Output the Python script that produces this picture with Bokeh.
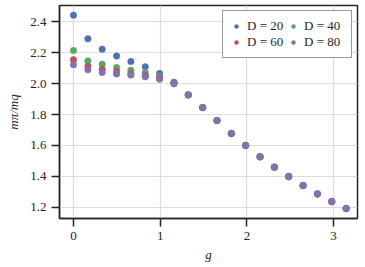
from bokeh.plotting import figure
from bokeh.models import Range1d, Legend, LegendItem, NumeralTickFormatter
from bokeh.embed import file_html
from bokeh.resources import INLINE

g = [0.0, 0.166, 0.331, 0.497, 0.662, 0.828, 0.993, 1.159, 1.324, 1.490,
     1.655, 1.821, 1.986, 2.152, 2.317, 2.483, 2.648, 2.814, 2.979, 3.145]
tail = [1.927, 1.845, 1.761, 1.677, 1.599, 1.526, 1.459, 1.398, 1.340, 1.286, 1.236, 1.191]
d20 = [2.443, 2.290, 2.223, 2.178, 2.143, 2.109, 2.065, 2.009] + tail
d40 = [2.214, 2.147, 2.126, 2.104, 2.087, 2.070, 2.046, 2.006] + tail
d60 = [2.154, 2.111, 2.091, 2.078, 2.063, 2.052, 2.035, 2.002] + tail
d80 = [2.122, 2.089, 2.072, 2.063, 2.055, 2.044, 2.029, 1.999] + tail

series = [("D = 20", d20, "#4C72B0"), ("D = 40", d40, "#55A868"),
          ("D = 60", d60, "#C44E52"), ("D = 80", d80, "#8172B2")]
x_ticks = [0, 1, 2, 3]
y_ticks = [1.2, 1.4, 1.6, 1.8, 2.0, 2.2, 2.4]

FONT = "Liberation Serif"
DARK = "#262626"

p = figure(width=365, height=267, output_backend="svg", toolbar_location=None,
           x_range=Range1d(-0.1615, 3.276), y_range=Range1d(1.1266, 2.5058),
           min_border_left=59, min_border_right=8, min_border_top=5, min_border_bottom=49)

renderers = {}
for label, ys, col in series:
    r = p.scatter(g, ys, size=6.5, fill_color=col, line_color=col, line_width=0.5)
    renderers[label] = r

p.outline_line_color = DARK
p.outline_line_width = 1.5
p.outline_line_alpha = 1

for ax in (p.xaxis[0], p.yaxis[0]):
    ax.axis_line_color = DARK
    ax.axis_line_width = 1.5
    ax.major_tick_line_color = DARK
    ax.major_tick_line_width = 1.5
    ax.major_tick_out = 8
    ax.major_tick_in = 0
    ax.minor_tick_line_color = None
    ax.major_label_text_font = FONT
    ax.major_label_text_font_size = "13px"
    ax.major_label_text_color = DARK
    ax.axis_label_text_font = FONT
    ax.axis_label_text_font_style = "italic"
    ax.axis_label_text_font_size = "13px"
    ax.axis_label_text_color = DARK

p.xaxis.ticker = x_ticks
p.yaxis.ticker = y_ticks
p.yaxis.formatter = NumeralTickFormatter(format="0.0")
p.xaxis.formatter = NumeralTickFormatter(format="0")
p.xaxis.major_label_standoff = 5
p.yaxis.major_label_standoff = 5
p.xaxis.axis_label = "g"
p.yaxis.axis_label = "mπ/mq"
p.xaxis.axis_label_standoff = 4
p.yaxis.axis_label_standoff = 6

p.xgrid.grid_line_color = "#dcdcdc"
p.ygrid.grid_line_color = "#dcdcdc"
p.xgrid.grid_line_width = 1.2
p.ygrid.grid_line_width = 1.2

order = ["D = 20", "D = 60", "D = 40", "D = 80"]
items = [LegendItem(label=k, renderers=[renderers[k]]) for k in order]
legend = Legend(items=items, location="top_right", ncols=2, orientation="vertical")
legend.border_line_color = "#333333"
legend.border_line_width = 1.5
legend.background_fill_alpha = 1
legend.label_text_font = FONT
legend.label_text_font_size = "13px"
legend.label_text_color = DARK
legend.glyph_width = 12
legend.glyph_height = 10
legend.label_height = 10
legend.label_width = 40
legend.label_standoff = 5
legend.spacing = 0
legend.padding = 7
legend.margin = 5
p.add_layout(legend)

open("out.html", "w").write(file_html(p, INLINE))
